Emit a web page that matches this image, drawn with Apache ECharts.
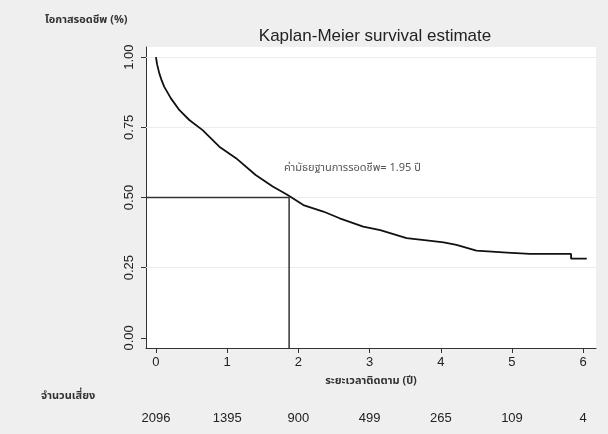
<!DOCTYPE html>
<html><head><meta charset="utf-8">
<script src="https://cdn.jsdelivr.net/npm/echarts@6/dist/echarts.min.js"></script>
<style>html,body{margin:0;padding:0;background:#efefef}#c{width:608px;height:434px}</style>
</head><body><div id="c"></div>
<script>
var timeYears = [0, 0.015, 0.047, 0.08, 0.117, 0.21, 0.33, 0.468, 0.655, 0.89, 1.124, 1.40, 1.64, 1.85, 2.07, 2.35, 2.58, 2.91, 3.15, 3.52, 3.80, 4.04, 4.22, 4.50, 4.93, 5.25, 5.83, 5.83, 6.05];
var survival  = [1.0, 0.975, 0.942, 0.917, 0.894, 0.853, 0.811, 0.776, 0.740, 0.681, 0.64, 0.58, 0.539, 0.509, 0.473, 0.45, 0.426, 0.396, 0.384, 0.355, 0.347, 0.34, 0.331, 0.311, 0.304, 0.299, 0.299, 0.282, 0.282];
var xTicks = [0, 1, 2, 3, 4, 5, 6];
var yTicks = [0, 0.25, 0.5, 0.75, 1];
var yGrid = [0.25, 0.5, 0.75, 1];
var atRisk = [2096, 1395, 900, 499, 265, 109, 4];
var medianTime = 1.87;
var medianSurv = 0.5;
var xMin = -0.14, xMax = 6.18, yMin = -0.036, yMax = 1.036;

var thai = '"Noto Sans Thai","Noto Serif Thai","Loma","Garuda","Tlwg Typo",serif';
var curve = timeYears.map(function(t,i){return [t, survival[i]];});

var chart = echarts.init(document.getElementById('c'), null, {renderer:'canvas'});
chart.setOption({
  backgroundColor:'#efefef',
  animation:false,
  title:[
    {text:'Kaplan-Meier survival estimate', left:370, top:23, textAlign:'center',
     textStyle:{fontFamily:'Liberation Sans, Arial, sans-serif', fontSize:17, fontWeight:'normal', color:'#222'}},
    {text:'โอกาสรอดชีพ (%)', left:40, top:10,
     textStyle:{fontFamily:thai, fontSize:11, fontWeight:'bold', color:'#333'}},
    {text:'จำนวนเสี่ยง', left:36, top:386,
     textStyle:{fontFamily:thai, fontSize:11, fontWeight:'bold', color:'#333'}}
  ],
  grid:{left:146, right:12, top:47, bottom:86, show:true, backgroundColor:'#fff', borderWidth:0},
  xAxis:[
    {type:'value', min:xMin, max:xMax,
     axisLine:{show:true, onZero:false, lineStyle:{color:'#333', width:1}},
     axisTick:{show:true, length:5, customValues:xTicks, lineStyle:{color:'#333'}},
     axisLabel:{customValues:xTicks, color:'#222', fontSize:13, margin:8, fontFamily:'Liberation Sans, Arial, sans-serif'},
     splitLine:{show:false},
     name:'ระยะเวลาติดตาม (ปี)', nameLocation:'middle', nameGap:28,
     nameTextStyle:{fontFamily:thai, fontSize:11, fontWeight:'bold', color:'#333'}},
    {type:'value', min:xMin, max:xMax, position:'bottom', offset:56, gridIndex:0,
     axisLine:{show:false}, axisTick:{show:false}, splitLine:{show:false},
     axisLabel:{customValues:xTicks, color:'#222', fontSize:13, fontFamily:'Liberation Sans, Arial, sans-serif',
       formatter:function(v){var i=xTicks.indexOf(Math.round(v)); return i>=0? String(atRisk[i]) : '';}}}
  ],
  yAxis:{type:'value', min:yMin, max:yMax,
     axisLine:{show:true, onZero:false, lineStyle:{color:'#333', width:1}},
     axisTick:{show:true, length:5, customValues:yTicks, lineStyle:{color:'#333'}},
     axisLabel:{customValues:yTicks, rotate:90, color:'#222', fontSize:13, margin:10,
       fontFamily:'Liberation Sans, Arial, sans-serif',
       formatter:function(v){return v.toFixed(2);}},
     splitLine:{show:false}},
  graphic:[
    {type:'text', left:362-78, top:163, style:{text:'ค่ามัธยฐานการรอดชีพ= 1.95 ปี', fill:'#555', font:'11px '+thai}}
  ],
  series:[
    {type:'line', data:[], z:1,
     markLine:{silent:true, symbol:'none', label:{show:false}, z:1,
       lineStyle:{color:'#ececec', width:1, type:'solid'},
       data:yGrid.map(function(v){return {yAxis:v};})}},
    {type:'line', data:curve, showSymbol:false, lineStyle:{color:'#111', width:1.8}, z:5},
    {type:'line', data:[[xMin, medianSurv],[medianTime, medianSurv],[medianTime, yMin]],
     showSymbol:false, lineStyle:{color:'#333', width:1.5}, z:4}
  ]
});
</script></body></html>
